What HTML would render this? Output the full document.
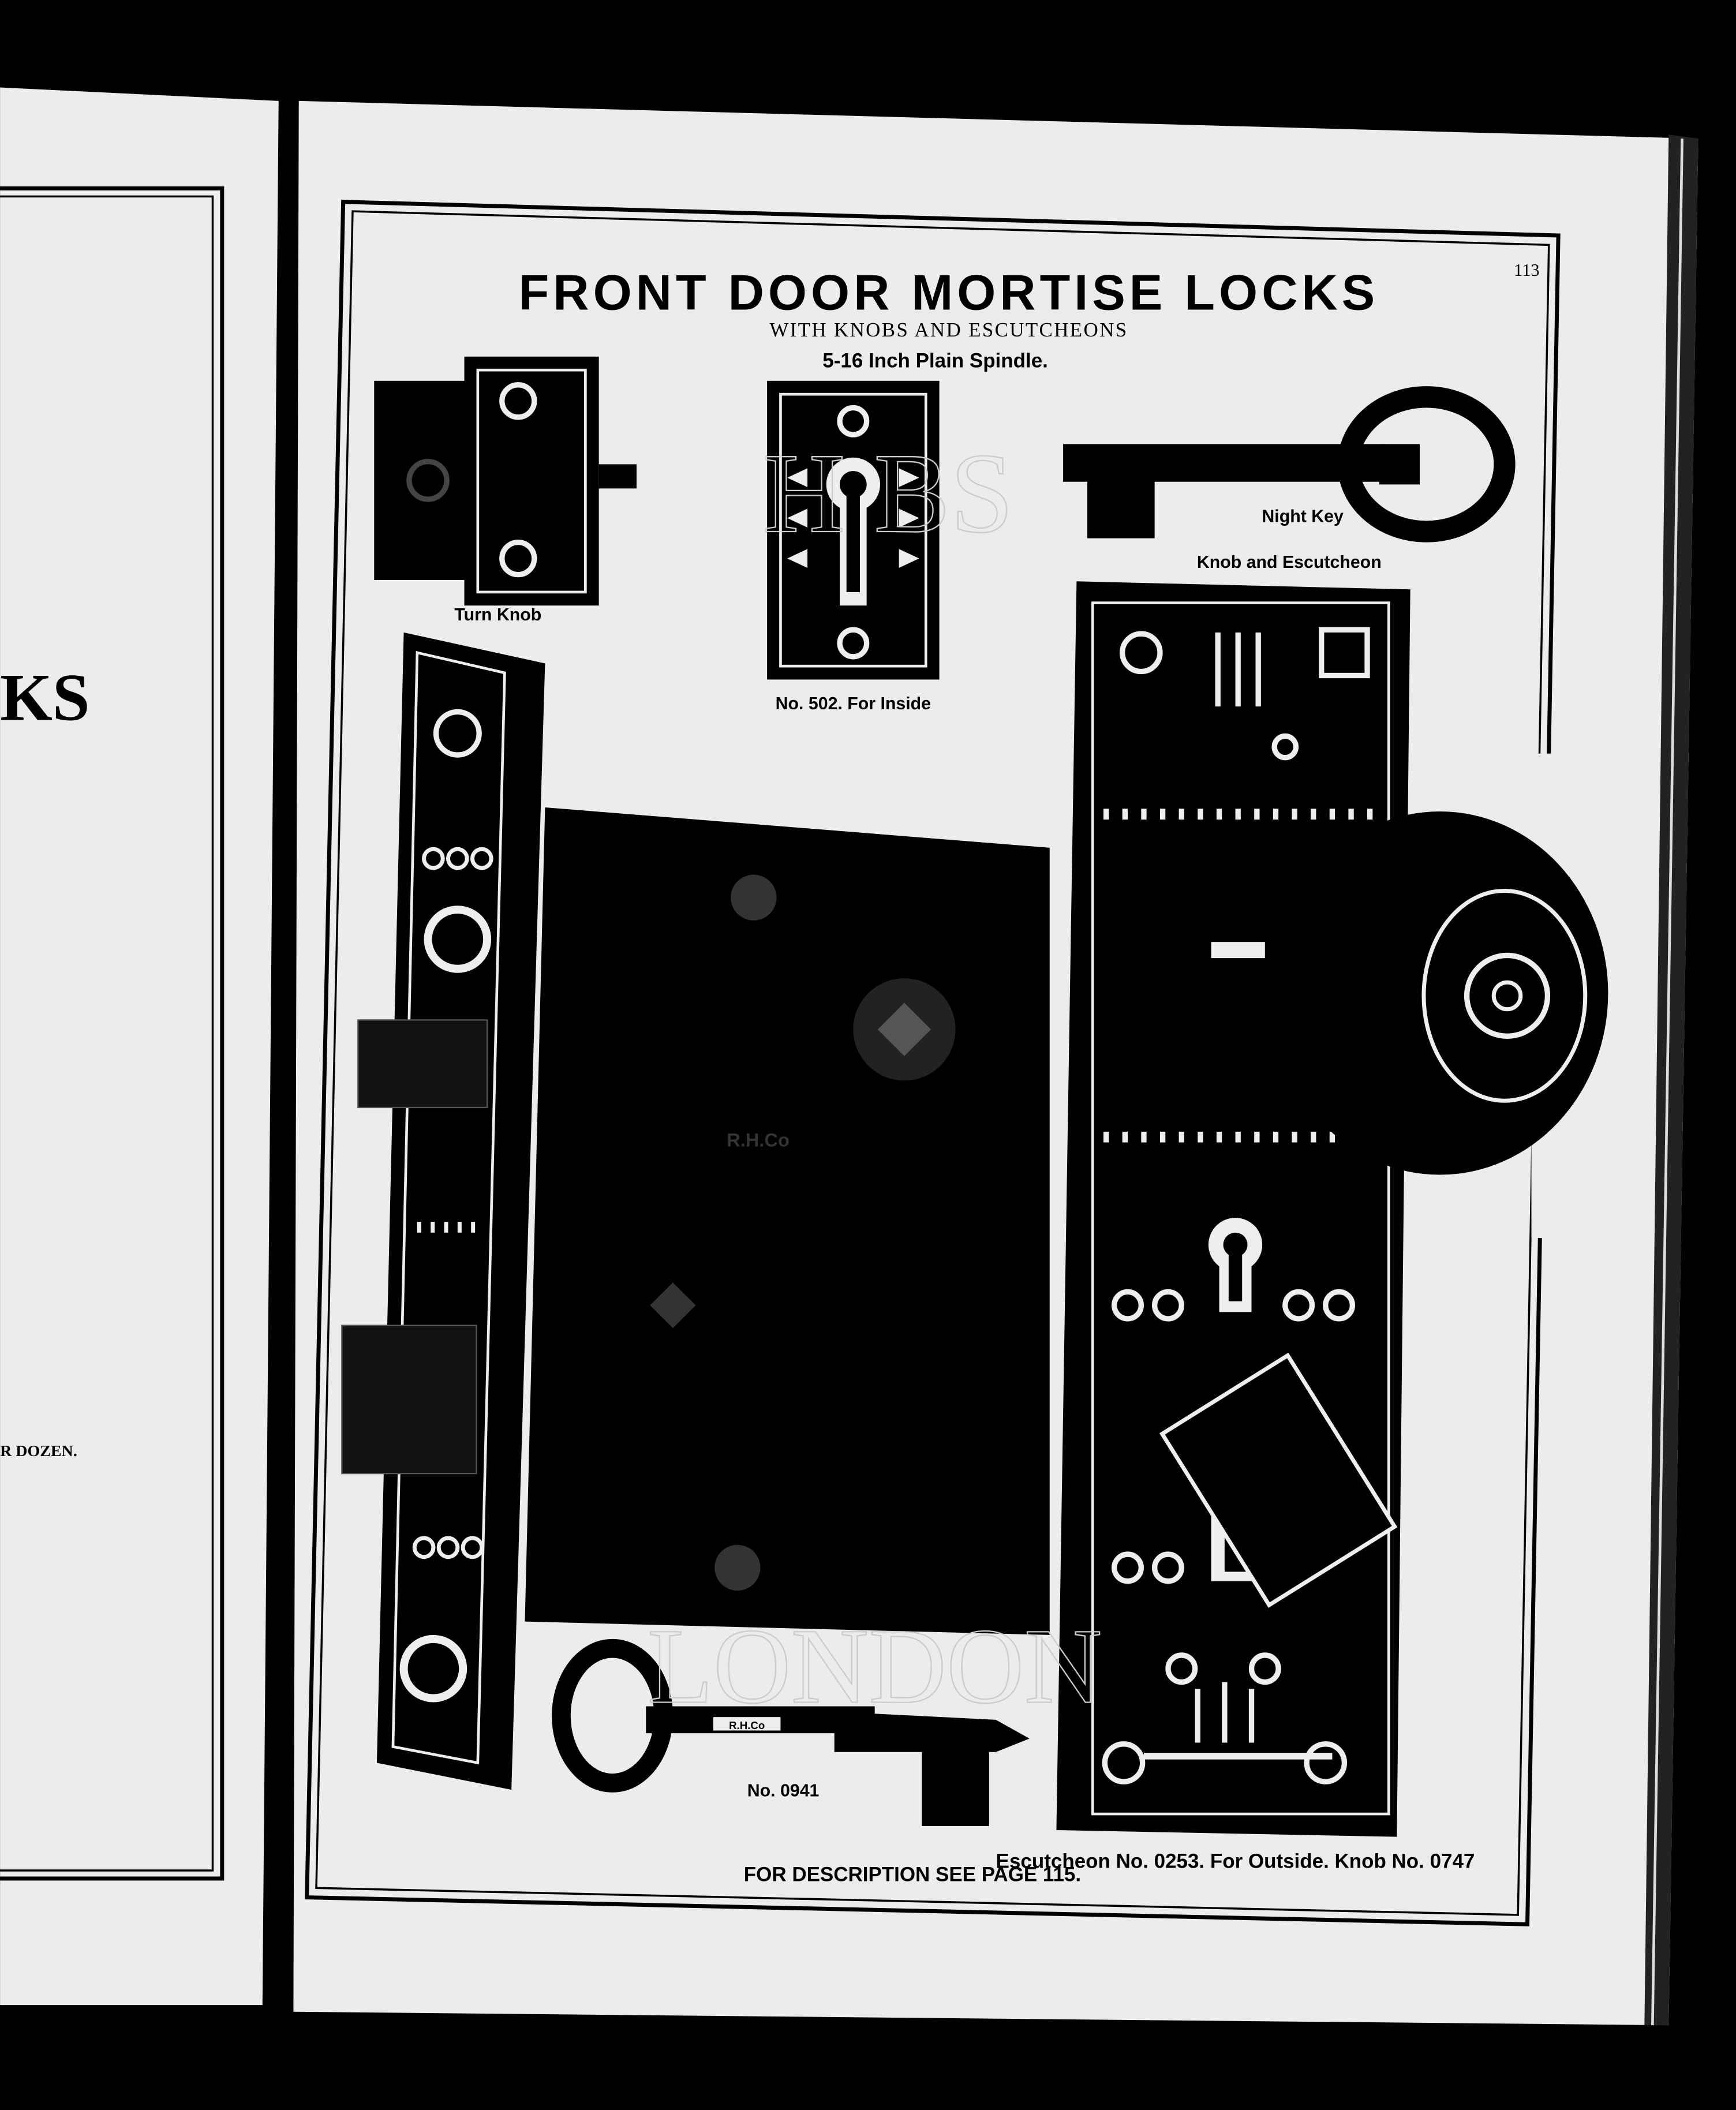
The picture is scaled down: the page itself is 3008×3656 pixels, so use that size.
<!DOCTYPE html>
<html><head><meta charset="utf-8"><style>html,body{margin:0;padding:0;background:#000;}svg{display:block}</style></head>
<body>
<svg xmlns="http://www.w3.org/2000/svg" width="3008" height="3656" viewBox="0 0 1290 1568" font-family="Liberation Sans, sans-serif">
<rect width="1290" height="1568" fill="#000"/>
<!-- left page -->
<polygon points="0,65 207,75 195,1490 0,1490" fill="#ececec"/>
<rect x="-5" y="140" width="170" height="1256" fill="none" stroke="#000" stroke-width="3"/>
<rect x="-5" y="146" width="163" height="1244" fill="none" stroke="#000" stroke-width="1.5"/>
<text x="0" y="535" font-size="50" font-family="Liberation Serif, serif" font-weight="bold">KS</text>
<text x="0" y="1082" font-size="12" font-family="Liberation Serif, serif" font-weight="bold">R DOZEN.</text>
<!-- right page -->
<polygon points="222,75 1262,103 1240,1505 218,1495" fill="#ececec"/>
<polygon points="1240,100 1262,103 1240,1505 1222,1505" fill="#222"/>
<line x1="1250" y1="103" x2="1228" y2="1505" stroke="#ddd" stroke-width="2"/>
<!-- frame -->
<polygon points="255,150 1158,175 1135,1430 228,1410" fill="none" stroke="#000" stroke-width="3"/>
<polygon points="262,157 1151,182 1128,1423 235,1403" fill="none" stroke="#000" stroke-width="1.5"/>
<rect x="1138" y="560" width="20" height="360" fill="#ececec"/>
<!-- title -->
<text x="705" y="230" font-size="37" font-weight="bold" text-anchor="middle" font-family="Liberation Sans, sans-serif" letter-spacing="3">FRONT DOOR MORTISE LOCKS</text>
<text x="705" y="250" font-size="15" text-anchor="middle" font-family="Liberation Serif, serif" letter-spacing="1">WITH KNOBS AND ESCUTCHEONS</text>
<text x="695" y="273" font-size="15" font-weight="bold" text-anchor="middle">5-16 Inch Plain Spindle.</text>
<text x="1125" y="205" font-size="13" font-family="Liberation Serif, serif">113</text>
<!-- turn knob -->
<rect x="278" y="283" width="80" height="148" fill="#000"/>
<rect x="345" y="265" width="100" height="185" fill="#000"/>
<rect x="355" y="275" width="80" height="165" fill="none" stroke="#eee" stroke-width="2"/>
<circle cx="385" cy="298" r="12" fill="none" stroke="#eee" stroke-width="4"/>
<circle cx="385" cy="415" r="12" fill="none" stroke="#eee" stroke-width="4"/>
<circle cx="318" cy="357" r="14" fill="none" stroke="#444" stroke-width="4"/>
<rect x="445" y="345" width="28" height="18" fill="#000"/>
<text x="370" y="461" font-size="13" font-weight="bold" text-anchor="middle">Turn Knob</text>
<!-- No 502 -->
<rect x="570" y="283" width="128" height="222" fill="#000"/>
<rect x="580" y="293" width="108" height="202" fill="none" stroke="#eee" stroke-width="2"/>
<circle cx="634" cy="360" r="20" fill="#eee"/>
<rect x="624" y="360" width="20" height="90" fill="#eee"/>
<circle cx="634" cy="360" r="10" fill="#000"/><rect x="629" y="360" width="10" height="80" fill="#000"/>
<circle cx="634" cy="313" r="10" fill="none" stroke="#eee" stroke-width="4"/>
<circle cx="634" cy="478" r="10" fill="none" stroke="#eee" stroke-width="4"/>
<g fill="#eee"><polygon points="585,355 600,348 600,362"/><polygon points="585,385 600,378 600,392"/><polygon points="585,415 600,408 600,422"/><polygon points="683,355 668,348 668,362"/><polygon points="683,385 668,378 668,392"/><polygon points="683,415 668,408 668,422"/></g>
<text x="634" y="527" font-size="13" font-weight="bold" text-anchor="middle">No. 502.  For Inside</text>
<text x="660" y="395" font-size="85" fill="none" stroke="#ccc" stroke-width="1" text-anchor="middle" font-family="Liberation Serif, serif">H    BS</text>
<!-- top key -->
<rect x="790" y="330" width="240" height="28" fill="#000"/>
<rect x="808" y="355" width="50" height="45" fill="#000"/>
<path d="M1060,295 a58,50 0 1,1 0,100 a58,50 0 1,1 0,-100z" fill="none" stroke="#000" stroke-width="16"/>
<rect x="1025" y="330" width="30" height="30" fill="#000"/>
<text x="968" y="388" font-size="13" font-weight="bold" text-anchor="middle">Night Key</text>
<text x="958" y="422" font-size="13" font-weight="bold" text-anchor="middle">Knob and Escutcheon</text>
<!-- left strip -->
<polygon points="300,470 405,493 380,1330 280,1310" fill="#000"/>
<polygon points="310,485 375,500 355,1310 292,1298" fill="none" stroke="#eee" stroke-width="2"/>
<circle cx="340" cy="545" r="16" fill="none" stroke="#eee" stroke-width="4"/>
<circle cx="340" cy="698" r="22" fill="none" stroke="#eee" stroke-width="6"/>
<circle cx="322" cy="1240" r="22" fill="none" stroke="#eee" stroke-width="6"/>
<g fill="none" stroke="#eee" stroke-width="3"><circle cx="322" cy="638" r="7"/><circle cx="340" cy="638" r="7"/><circle cx="358" cy="638" r="7"/><circle cx="315" cy="1150" r="7"/><circle cx="333" cy="1150" r="7"/><circle cx="351" cy="1150" r="7"/></g>
<line x1="310" y1="912" x2="360" y2="912" stroke="#eee" stroke-width="8" stroke-dasharray="3 7"/>
<rect x="266" y="758" width="96" height="65" fill="#111" stroke="#555"/>
<rect x="254" y="985" width="100" height="110" fill="#111" stroke="#555"/>
<!-- lock body -->
<polygon points="405,600 780,630 780,1215 390,1205" fill="#000"/>
<circle cx="560" cy="667" r="17" fill="#333"/>
<circle cx="548" cy="1165" r="17" fill="#333"/>
<circle cx="672" cy="765" r="38" fill="#222"/>
<rect x="658" y="751" width="28" height="28" fill="#555" transform="rotate(45 672 765)"/>
<rect x="488" y="958" width="24" height="24" fill="#333" transform="rotate(45 500 970)"/>
<text x="540" y="852" font-size="14" fill="#333" font-weight="bold">R.H.Co</text>
<!-- right escutcheon -->
<polygon points="800,432 1048,438 1038,1365 785,1360" fill="#000"/>
<rect x="812" y="448" width="220" height="900" fill="none" stroke="#eee" stroke-width="2"/>
<circle cx="848" cy="485" r="14" fill="none" stroke="#eee" stroke-width="4"/>
<rect x="982" y="468" width="34" height="34" fill="none" stroke="#eee" stroke-width="4"/>
<line x1="820" y1="605" x2="1025" y2="605" stroke="#eee" stroke-width="8" stroke-dasharray="4 10"/>
<line x1="820" y1="845" x2="1025" y2="845" stroke="#eee" stroke-width="8" stroke-dasharray="4 10"/>
<circle cx="918" cy="925" r="20" fill="#eee"/><rect x="906" y="925" width="24" height="50" fill="#eee"/>
<circle cx="918" cy="925" r="9" fill="#000"/><rect x="913" y="925" width="10" height="42" fill="#000"/>
<g fill="none" stroke="#eee" stroke-width="4">
<circle cx="838" cy="970" r="10"/><circle cx="868" cy="970" r="10"/><circle cx="965" cy="970" r="10"/><circle cx="995" cy="970" r="10"/>
<circle cx="838" cy="1165" r="10"/><circle cx="868" cy="1165" r="10"/>
<circle cx="835" cy="1310" r="14"/><circle cx="985" cy="1310" r="14"/>
<circle cx="878" cy="1240" r="10"/><circle cx="940" cy="1240" r="10"/>
<circle cx="955" cy="555" r="8"/>
</g>
<g stroke="#eee" stroke-width="4"><line x1="905" y1="470" x2="905" y2="525"/><line x1="920" y1="470" x2="920" y2="525"/><line x1="935" y1="470" x2="935" y2="525"/><line x1="890" y1="1255" x2="890" y2="1295"/><line x1="910" y1="1250" x2="910" y2="1295"/><line x1="930" y1="1255" x2="930" y2="1295"/></g>
<rect x="900" y="1095" width="40" height="80" fill="#eee"/><rect x="910" y="1100" width="20" height="68" fill="#000"/>
<rect x="895" y="1025" width="110" height="150" fill="#000" stroke="#eee" stroke-width="3" transform="rotate(-32 950 1100)"/>
<line x1="850" y1="1305" x2="990" y2="1305" stroke="#eee" stroke-width="5"/>
<!-- knob -->
<ellipse cx="1070" cy="738" rx="125" ry="135" fill="#000"/>
<ellipse cx="1118" cy="740" rx="60" ry="78" fill="none" stroke="#eee" stroke-width="3"/>
<circle cx="1120" cy="740" r="30" fill="none" stroke="#eee" stroke-width="4"/>
<circle cx="1120" cy="740" r="10" fill="none" stroke="#eee" stroke-width="3"/>
<rect x="870" y="680" width="90" height="120" fill="#000"/>
<rect x="900" y="700" width="40" height="12" fill="#eee"/>
<!-- bottom key -->
<path d="M455,1225 a38,50 0 1,0 0.1,0z" fill="none" stroke="#000" stroke-width="14"/>
<rect x="480" y="1268" width="170" height="20" fill="#000"/>
<polygon points="620,1272 740,1278 765,1292 740,1302 620,1302" fill="#000"/>
<rect x="685" y="1295" width="50" height="62" fill="#000"/>
<rect x="530" y="1276" width="50" height="10" fill="#eee"/>
<text x="555" y="1285" font-size="8" font-weight="bold" text-anchor="middle">R.H.Co</text>
<text x="582" y="1335" font-size="13" font-weight="bold" text-anchor="middle">No. 0941</text>
<text x="650" y="1265" font-size="80" fill="none" stroke="#ccc" stroke-width="1" text-anchor="middle" font-family="Liberation Serif, serif">LONDON</text>
<!-- bottom texts -->
<text x="918" y="1388" font-size="15" font-weight="bold" text-anchor="middle">Escutcheon  No. 0253.  For Outside.  Knob No. 0747</text>
<text x="678" y="1398" font-size="15" font-weight="bold" text-anchor="middle">FOR DESCRIPTION SEE PAGE 115.</text>
</svg>
</body></html>
